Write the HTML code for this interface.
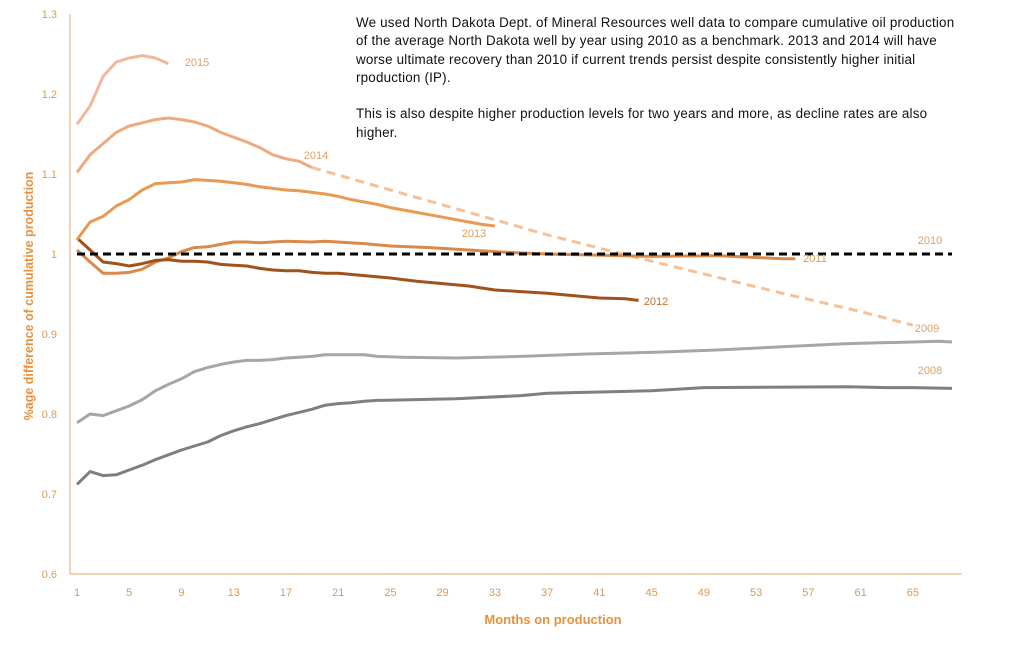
<!DOCTYPE html>
<html><head><meta charset="utf-8"><style>
body{margin:0;background:#fff;width:1014px;height:643px;overflow:hidden;font-family:"Liberation Sans",sans-serif}
</style></head><body>
<svg id="chart" width="1014" height="643" xmlns="http://www.w3.org/2000/svg"></svg>
<div style="position:absolute;left:356px;top:14px;width:640px;font-size:13.4px;letter-spacing:0.2px;line-height:18.3px;color:#111;white-space:nowrap">We used North Dakota Dept. of Mineral Resources well data to compare cumulative oil production<br>of the average North Dakota well by year using 2010 as a benchmark. 2013 and 2014 will have<br>worse ultimate recovery than 2010 if current trends persist despite consistently higher initial<br>rpoduction (IP).<div style="height:18.3px"></div>This is also despite higher production levels for two years and more, as decline rates are also<br>higher.</div>
<script>
const xTicks=[1,5,9,13,17,21,25,29,33,37,41,45,49,53,57,61,65];
const yTicks=[0.6,0.7,0.8,0.9,1,1.1,1.2,1.3];
const s2008m=[1,2,3,4,5,6,7,8,9,10,11,12,13,14,15,16,17,18,19,20,21,22,23,24,30,35,37,45,49,60,63,65,68];
const s2008v=[0.712,0.728,0.723,0.724,0.73,0.736,0.743,0.749,0.755,0.76,0.765,0.773,0.779,0.784,0.788,0.793,0.798,0.802,0.806,0.811,0.813,0.814,0.816,0.817,0.819,0.823,0.826,0.829,0.833,0.834,0.833,0.833,0.832];
const s2009m=[1,2,3,4,5,6,7,8,9,10,11,12,13,14,15,16,17,18,19,20,23,24,26,30,35,40,45,50,55,60,65,67,68];
const s2009v=[0.789,0.8,0.798,0.804,0.81,0.818,0.829,0.837,0.844,0.853,0.858,0.862,0.865,0.867,0.867,0.868,0.87,0.871,0.872,0.874,0.874,0.872,0.871,0.87,0.872,0.875,0.877,0.88,0.884,0.888,0.89,0.891,0.89];
const s2010m=[1,68];
const s2010v=[1,1];
const s2011m=[1,2,3,4,5,6,7,8,9,10,11,12,13,14,15,17,19,20,23,25,28,31,34,37,45,50,55,56];
const s2011v=[1.005,0.99,0.976,0.976,0.977,0.981,0.99,0.995,1.003,1.008,1.009,1.012,1.015,1.015,1.014,1.016,1.015,1.016,1.013,1.01,1.008,1.005,1.002,1.0,0.997,0.998,0.994,0.994];
const s2012m=[1,2,3,4,5,6,7,8,9,10,11,12,13,14,15,16,17,18,19,20,21,23,25,27,29,31,33,35,37,39,41,43,44];
const s2012v=[1.02,1.005,0.99,0.988,0.985,0.988,0.992,0.993,0.991,0.991,0.99,0.987,0.986,0.985,0.982,0.98,0.979,0.979,0.977,0.976,0.976,0.973,0.97,0.966,0.963,0.96,0.955,0.953,0.951,0.948,0.945,0.944,0.942];
const s2013m=[1,2,3,4,5,6,7,8,9,10,11,12,13,14,15,16,17,18,19,20,21,22,23,24,25,26,27,28,29,30,31,32,33];
const s2013v=[1.018,1.04,1.047,1.06,1.068,1.08,1.088,1.089,1.09,1.093,1.092,1.091,1.089,1.087,1.084,1.082,1.08,1.079,1.077,1.075,1.072,1.068,1.065,1.062,1.058,1.055,1.052,1.049,1.046,1.043,1.04,1.037,1.035];
const s2014m=[1,2,3,4,5,6,7,8,9,10,11,12,13,14,15,16,17,18,19];
const s2014v=[1.102,1.124,1.138,1.152,1.16,1.164,1.168,1.17,1.168,1.165,1.16,1.152,1.146,1.14,1.133,1.124,1.119,1.116,1.108];
const s2014pm=[19,25,31,37,43,49,55,61,65];
const s2014pv=[1.108,1.08,1.052,1.024,0.999,0.975,0.951,0.928,0.911];
const s2015m=[1,2,3,4,5,6,7,8];
const s2015v=[1.162,1.185,1.222,1.24,1.245,1.248,1.245,1.238];

const X=m=>77+(m-1)*13.06, Y=v=>254-(v-1)*800;
const svg=document.getElementById('chart');const NS='http://www.w3.org/2000/svg';
function mk(t,a,txt){const e=document.createElementNS(NS,t);for(const k in a)e.setAttribute(k,a[k]);if(txt!==undefined)e.textContent=txt;svg.appendChild(e);return e;}
const ax='#e3a86b',tc='#d99a55';
let e=mk('line',{x1:70,y1:14,x2:70,y2:574,stroke:ax,'stroke-width':1});


e=mk('line',{x1:70,y1:574,x2:962,y2:574,stroke:ax,'stroke-width':1});


yTicks.forEach(v=>{const t=mk('text',{x:57,y:Y(v)+4,'text-anchor':'end','font-size':11,fill:tc},String(v));

});
xTicks.forEach(m=>{const t=mk('text',{x:X(m),y:596,'text-anchor':'middle','font-size':11,fill:tc},String(m));

});
e=mk('text',{x:553,y:624,'text-anchor':'middle','font-size':13,'font-weight':'bold',fill:'#e8903e'},'Months on production');


e=mk('text',{x:0,y:0,'text-anchor':'middle','font-size':12.5,'font-weight':'bold',fill:'#e8903e',transform:'translate(33,296) rotate(-90)'},'%age difference of cumulative production');


function line(ms,vs,col,name,dash){const p=mk('path',{d:ms.map((m,i)=>(i?'L':'M')+X(m).toFixed(1)+','+Y(vs[i]).toFixed(1)).join(''),fill:'none',stroke:col,'stroke-width':3,'stroke-linejoin':'round'});
if(dash)p.setAttribute('stroke-dasharray',dash);

}
line(s2008m,s2008v,'#7f7f7f','series-2008');
line(s2009m,s2009v,'#a6a6a6','series-2009');
line(s2014pm,s2014pv,'#f5c197','series-2014-projection','9,6');
line(s2011m,s2011v,'#d9894a','series-2011');
line(s2012m,s2012v,'#a0521b','series-2012');
line(s2013m,s2013v,'#e99a52','series-2013');
line(s2014m,s2014v,'#eeaa7f','series-2014');
line(s2015m,s2015v,'#f2b89c','series-2015');
line(s2010m,s2010v,'#000','series-2010','8,5');
const labels=[['2015',197,66,'#e0a070'],['2014',316,159,'#e0a070'],['2013',474,237,'#e0a060'],['2012',656,305,'#c07030'],['2011',815,262,'#d99a55'],['2010',930,244,'#e0a060'],['2009',927,332,'#e0a060'],['2008',930,374,'#e0a060']];
labels.forEach(l=>{const t=mk('text',{x:l[1],y:l[2],'text-anchor':'middle','font-size':11,fill:l[3]},l[0]);

});
</script>
</body></html>
